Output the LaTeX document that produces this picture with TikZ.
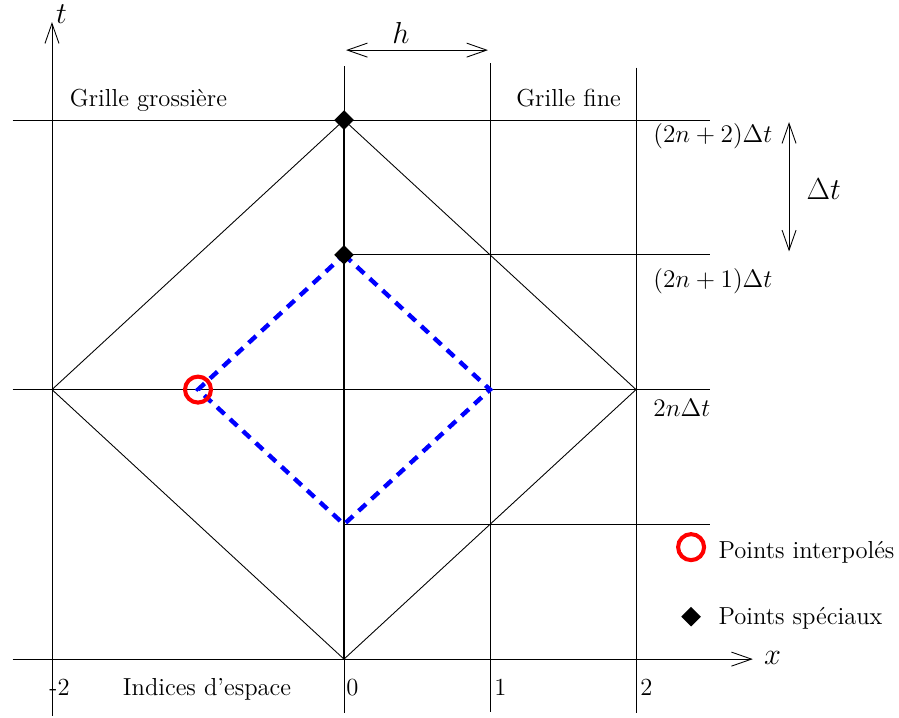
\documentclass[tikz,border=0pt]{standalone}
\usepackage{fontspec}
\usetikzlibrary{arrows.meta,shapes.geometric}
\newcommand{\grand}{\fontsize{17}{20}\selectfont}
\begin{document}
\begin{tikzpicture}[x=2.92cm,y=2.695cm,line width=0.5pt,
  >={Straight Barb[length=4mm,width=2.8mm]},
  every node/.style={font=\fontsize{14}{17}\selectfont},
  special/.style={diamond,fill=black,inner sep=0pt,minimum size=0.4cm},
  interp/.style={circle,draw=red,line width=2.3pt,minimum size=0.52cm,inner sep=0pt},
  pointille/.style={blue,line width=2.5pt,dash pattern=on 0.2cm off 0.15cm}]
  \useasboundingbox (-2.356,-0.430) rectangle (3.801,4.891);
  % sommets des losanges
  \coordinate (haut) at (0,4);
  \coordinate (gauche) at (-2,2);
  \coordinate (droite) at (2,2);
  \coordinate (bas) at (0,0);
  \coordinate (m3) at (0,3);
  \coordinate (m1) at (0,1);
  \coordinate (mg) at (-1,2);
  \coordinate (md) at (1,2);
  % grille
  \draw (-2.27,4)--(2.507,4);
  \draw (-2.27,2)--(2.507,2);
  \draw (m3)--(2.507,3);
  \draw (m1)--(2.507,1);
  \draw (0,4.40)--(0,-0.40);
  \draw[line width=1pt] (bas)--(haut);
  \draw (1,4.42)--(1,-0.39);
  \draw (2,4.39)--(2,-0.40);
  % axes
  \draw[->] (-2.27,0)--(2.80,0);
  \draw[->] (-2,-0.42)--(-2,4.727);
  \node (labx) at (2.935,0.007){\grand$x$};
  \node (labt) at (-1.935,4.787){\grand$t$};
  % grand losange
  \draw (haut)--(droite)--(bas)--(gauche)--cycle;
  % petit losange
  \draw[pointille] (m3)--(md)--(m1)--(mg)--cycle;
  \node[special] (sp4) at (haut){};
  \node[special] (sp3) at (m3){};
  \node[interp] (pi) at (mg){};
  % pas h et pas de temps
  \coordinate (h0) at (0.014,4.519);
  \coordinate (h1) at (0.986,4.519);
  \draw[<->] (h0)--(h1);
  \node (labh) at (0.39,4.649){\grand$h$};
  \coordinate (dt0) at (3.048,3.985);
  \coordinate (dt1) at (3.048,3.025);
  \draw[<->] (dt0)--(dt1);
  \node[anchor=west] (labdt) at (3.125,3.488){\fontsize{16}{19}\selectfont$\Delta t$};
  % textes
  \node[anchor=base] (gg) at (-1.339,4.104){Grille grossière};
  \node[anchor=base] (gf) at (1.538,4.104){Grille fine};
  \node[anchor=base] (ind) at (-0.938,-0.267){Indices d'espace};
  \node[anchor=base west,inner xsep=0pt] (im2) at (-2.02,-0.267){-2};
  \node[anchor=base west,inner xsep=0pt] (i0) at (0.014,-0.267){0};
  \node[anchor=base west,inner xsep=0pt] (i1) at (1.027,-0.267){1};
  \node[anchor=base west,inner xsep=0pt] (i2) at (2.027,-0.267){2};
  \node[anchor=base west,inner xsep=0pt] (t2) at (2.116,3.83){$(2n+2)\Delta t$};
  \node[anchor=base west,inner xsep=0pt] (t1) at (2.116,2.761){$(2n+1)\Delta t$};
  \node[anchor=base west,inner xsep=0pt] (t0) at (2.116,1.80){$2n\Delta t$};
  % legende
  \node[interp] (legi) at (2.377,0.831){};
  \node[anchor=base west,inner xsep=0pt] (legit) at (2.562,0.750){Points interpolés};
  \node[special] (legs) at (2.377,0.315){};
  \node[anchor=base west,inner xsep=0pt] (legst) at (2.562,0.260){Points spéciaux};
\end{tikzpicture}
\end{document}
